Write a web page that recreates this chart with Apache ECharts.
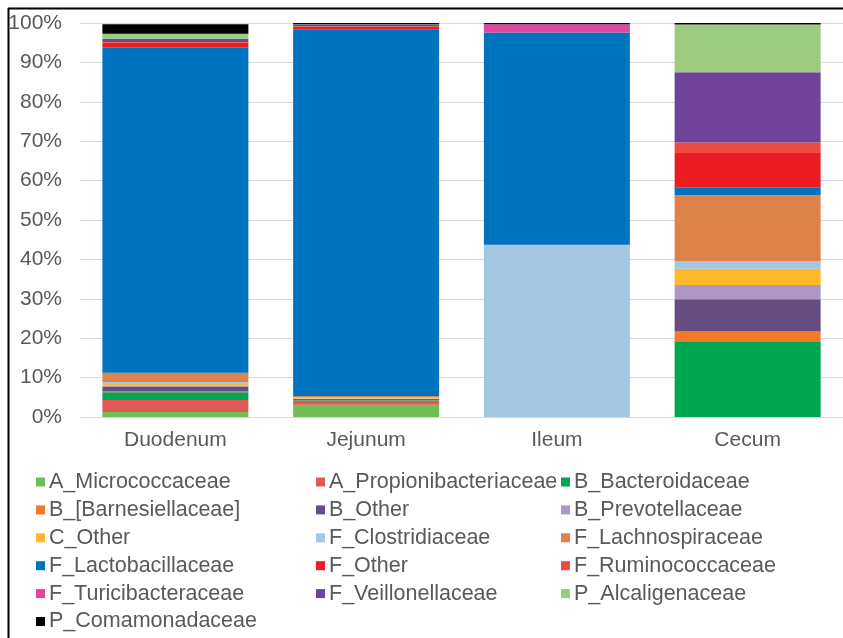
<!DOCTYPE html>
<html><head><meta charset="utf-8">
<script src="https://cdn.jsdelivr.net/npm/echarts@6/dist/echarts.min.js"></script>
<style>html,body{margin:0;padding:0;background:#fff}#c{width:843px;height:638px}</style>
</head><body><div id="c"></div>
<script>
var categories = ['Duodenum', 'Jejunum', 'Ileum', 'Cecum'];
var yTicks = ['0%','10%','20%','30%','40%','50%','60%','70%','80%','90%','100%'];
var seriesNames = ['A_Micrococcaceae','A_Propionibacteriaceae','B_Bacteroidaceae','B_[Barnesiellaceae]','B_Other','B_Prevotellaceae','C_Other','F_Clostridiaceae','F_Lachnospiraceae','F_Lactobacillaceae','F_Other','F_Ruminococcaceae','F_Turicibacteraceae','F_Veillonellaceae','P_Alcaligenaceae','P_Comamonadaceae'];
var colors = ['#70BF54','#E05A55','#00A651','#F47A2A','#654F82','#AE97C5','#FDB927','#A4C7E2','#DD834A','#0073BF','#EC1C24','#EF4B3E','#E0479E','#6E4399','#9ACB7E','#000000'];
// values per series: [Duodenum, Jejunum, Ileum, Cecum] (%)
var A_Micrococcaceae       = [1.3, 3.1, 0, 0];
var A_Propionibacteriaceae = [3.0, 1.1, 0, 0];
var B_Bacteroidaceae       = [2.0, 0.35, 0, 19.2];
var B_Barnesiellaceae      = [0.2, 0, 0, 2.5];
var B_Other                = [1.1, 0.1, 0, 8.2];
var B_Prevotellaceae       = [0.4, 0, 0, 3.6];
var C_Other                = [0.6, 0.1, 0, 4.1];
var F_Clostridiaceae       = [0.3, 0.25, 43.7, 2.0];
var F_Lachnospiraceae      = [2.3, 0.35, 0, 16.7];
var F_Lactobacillaceae     = [82.5, 93.05, 53.9, 2.0];
var F_Other                = [1.3, 0.7, 0, 8.7];
var F_Ruminococcaceae      = [0.2, 0.1, 0, 2.7];
var F_Turicibacteraceae    = [0, 0, 2.1, 0];
var F_Veillonellaceae      = [0.8, 0.4, 0, 17.8];
var P_Alcaligenaceae       = [1.3, 0.1, 0, 12.1];
var P_Comamonadaceae       = [2.4, 0.3, 0.3, 0.4];
var allValues = [A_Micrococcaceae,A_Propionibacteriaceae,B_Bacteroidaceae,B_Barnesiellaceae,B_Other,B_Prevotellaceae,C_Other,F_Clostridiaceae,F_Lachnospiraceae,F_Lactobacillaceae,F_Other,F_Ruminococcaceae,F_Turicibacteraceae,F_Veillonellaceae,P_Alcaligenaceae,P_Comamonadaceae];

var font = 'Liberation Sans, Arial, sans-serif';
var series = seriesNames.map(function(n, i){
  return {name: n, type: 'bar', stack: 'all', data: allValues[i], barWidth: 146,
    itemStyle: {color: colors[i]}, emphasis: {disabled: true}};
});
function legendCol(idx, left){
  return {orient: 'vertical', left: left, top: 466, itemWidth: 9, itemHeight: 9, itemGap: 5.9,
    icon: 'rect', selectedMode: false,
    data: idx.map(function(k){return seriesNames[k];}),
    textStyle: {fontFamily: font, fontSize: 21.5, color: '#595959', lineHeight: 21.5, padding: [0,0,0,-1]}};
}
var chart = echarts.init(document.getElementById('c'), null, {renderer: 'canvas'});
chart.setOption({
  animation: false,
  color: colors,
  grid: {left: 80, top: 23, width: 767, height: 394, containLabel: false},
  xAxis: {type: 'category', data: categories,
    axisLine: {lineStyle: {color: '#D9D9D9'}}, axisTick: {show: false},
    axisLabel: {fontFamily: font, fontSize: 21, color: '#595959', margin: 13}},
  yAxis: {type: 'value', min: 0, max: 100, interval: 10,
    axisLabel: {fontFamily: font, fontSize: 21, color: '#595959', margin: 18,
      formatter: function(v){ return yTicks[Math.round(v/10)]; }},
    splitLine: {lineStyle: {color: '#D9D9D9'}}, axisLine: {show: false}, axisTick: {show: false}},
  legend: [legendCol([0,3,6,9,12,15], 31), legendCol([1,4,7,10,13], 311), legendCol([2,5,8,11,14], 556)],
  graphic: [
    {type: 'line', shape: {x1: 8.5, y1: 8, x2: 8.5, y2: 638}, style: {stroke: '#000', lineWidth: 2}},
    {type: 'line', shape: {x1: 8, y1: 8.5, x2: 843, y2: 8.5}, style: {stroke: '#000', lineWidth: 2}}
  ],
  series: series
});
</script></body></html>
